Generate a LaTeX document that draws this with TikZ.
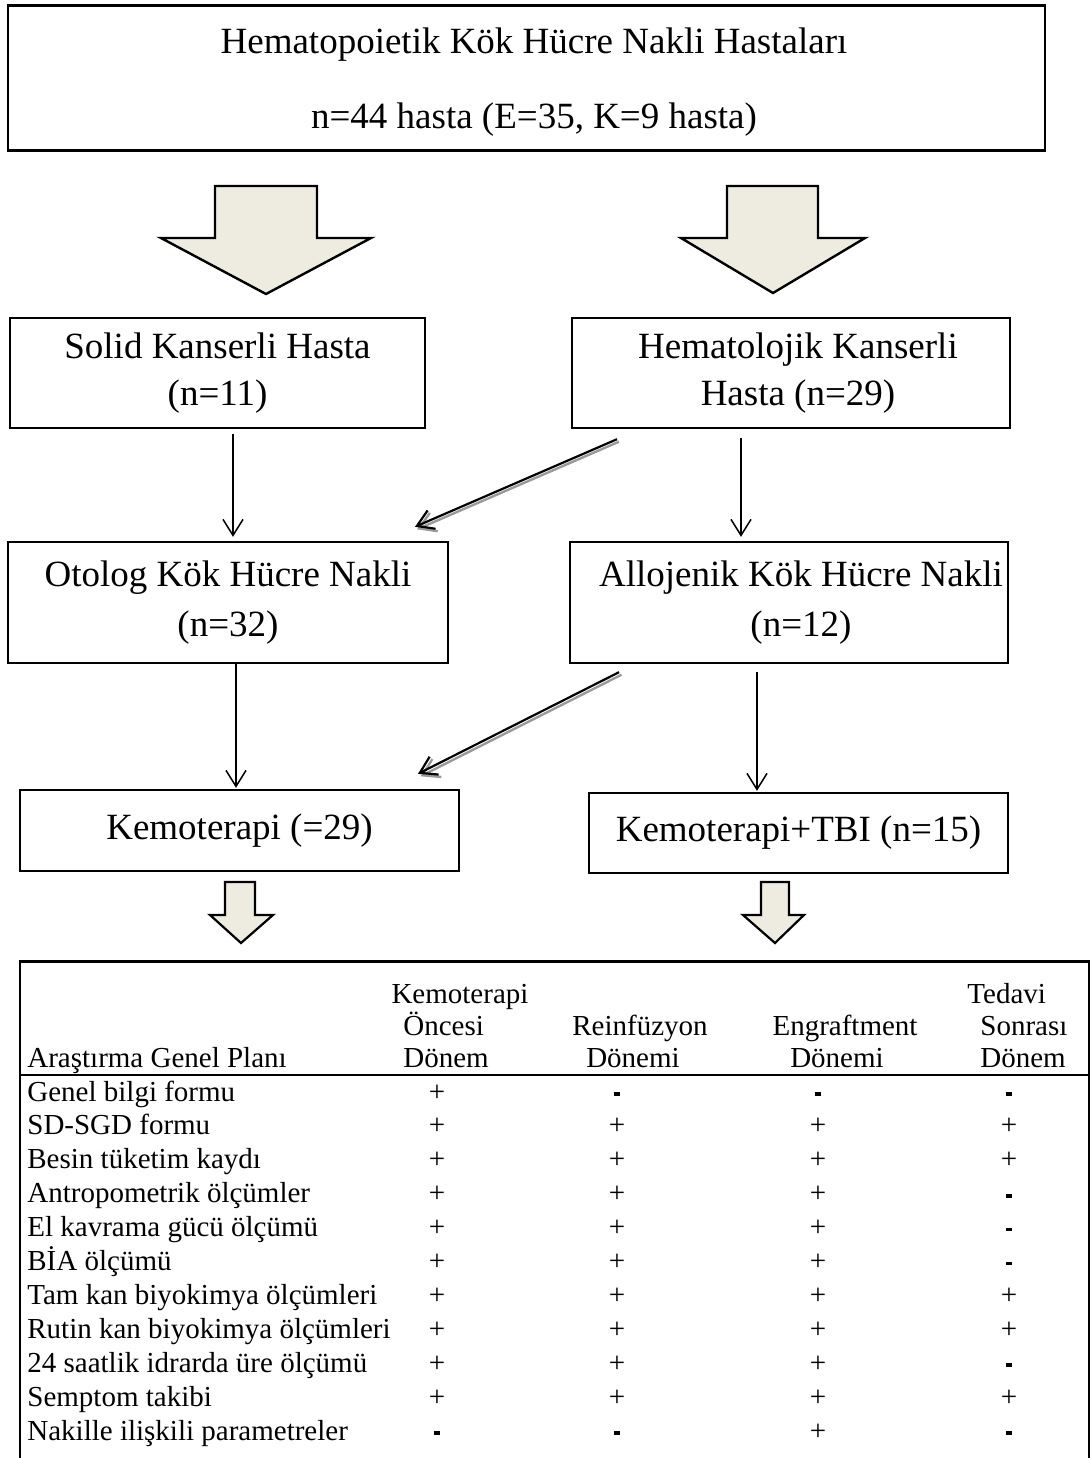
\documentclass[tikz,border=0pt]{standalone}
\usepackage{fontspec}
\setmainfont{Liberation Serif}
\usetikzlibrary{arrows.meta,calc}
\definecolor{fatfill}{HTML}{EEECE1}
\definecolor{shadowgray}{HTML}{9A9A9A}
\newcommand\cellp{+}
\newcommand\cellm{\rule[2.6pt]{3.4pt}{1.8pt}}
\begin{document}
\begin{tikzpicture}[x=0.5pt,y=-0.5pt,
  box/.style={draw=black, line width=1.2pt, inner sep=0pt, align=center, font=\fontsize{18.5}{23.5}\selectfont},
  fat/.style={draw=black, line width=1.2pt, fill=fatfill, line join=miter},
  conn/.style={line width=0.75pt, -{Straight Barb[length=8pt,width=10pt]}},
  diagconn/.style={line width=1.1pt, -{Straight Barb[length=8pt,width=10pt]}},
  shadowconn/.style={line width=1.2pt, shadowgray, -{Straight Barb[length=8pt,width=10pt]}},
  tcell/.style={inner sep=0pt, font=\fontsize{14.5}{17}\selectfont},
]
\useasboundingbox (0,0) rectangle (1092,1458);

% boxes
\node[box, minimum width=518.5pt, minimum height=72.5pt, font=\fontsize{18.5}{37.5}\selectfont] (top) at (526.5,78)
  {\rule{0pt}{16.6pt}\hspace*{7.5pt}Hematopoietik Kök Hücre Nakli Hastaları\\\hspace*{7.5pt}n=44 hasta (E=35, K=9 hasta)};
\node[box, minimum width=207.5pt, minimum height=55pt] (solid) at (217.5,373) {Solid Kanserli Hasta\\(n=11)};
\node[box, minimum width=219pt, minimum height=55pt] (hemat) at (791,373) {\hspace*{7pt}Hematolojik Kanserli\\\hspace*{7pt}Hasta (n=29)};
\node[box, minimum width=220pt, minimum height=60.5pt, font=\fontsize{18.5}{25}\selectfont] (otolog) at (228,602.5) {Otolog Kök Hücre Nakli\\(n=32)};
\node[box, minimum width=219pt, minimum height=60.5pt, font=\fontsize{18.5}{25}\selectfont] (allo) at (789,602.5) {\hspace*{12pt}Allojenik Kök Hücre Nakli\\\hspace*{12pt}(n=12)};
\node[box, minimum width=219.5pt, minimum height=40.5pt] (kemo) at (239.5,830.5) {Kemoterapi (=29)};
\node[box, minimum width=209.5pt, minimum height=40pt] (tbi) at (798.5,833) {Kemoterapi+TBI (n=15)};

% fat arrows
\draw[fat] (215,186) -- (317,186) -- (317,238) -- (371,238) -- (266,294) -- (161,238) -- (215,238) -- cycle;
\draw[fat] (727,186) -- (818,186) -- (818,238) -- (865,238) -- (773,293) -- (681,238) -- (727,238) -- cycle;
\draw[fat, line width=1.1pt] (225,882) -- (255,882) -- (255,915) -- (273,915) -- (241,943) -- (210,915) -- (225,915) -- cycle;
\draw[fat, line width=1.1pt] (761,882) -- (789,882) -- (789,915) -- (804,915) -- (775,943) -- (743,915) -- (761,915) -- cycle;

% connectors
\draw[conn] ($(solid.south)+(15.5,5)$) -- ($(otolog.north)+(5,-4)$);
\draw[shadowconn] ($(hemat.south)+(-172,12.5)$) -- ($(otolog.north)+(189,-11.5)$);
\draw[diagconn] ($(hemat.south)+(-174,10)$) -- ($(otolog.north)+(187,-14)$);
\draw[conn] ($(hemat.south)+(-50,9)$) -- ($(allo.north)+(-48,-4)$);
\draw[conn] ($(otolog.south)+(8,0)$) -- ($(kemo.north)+(-3.5,-1)$);
\draw[shadowconn] ($(allo.south)+(-167.5,10.5)$) -- ($(kemo.north)+(181,-12.5)$);
\draw[diagconn] ($(allo.south)+(-170,8)$) -- ($(kemo.north)+(178.5,-15)$);
\draw[conn] ($(allo.south)+(-32,8)$) -- ($(tbi.north)+(-41.5,-1)$);

% table frame
\draw[line width=1.5pt] (19,961) -- (1090,961);
\draw[line width=1pt] (20,961) -- (20,1458);
\draw[line width=0.8pt] (1089,961) -- (1089,1458);
\draw[line width=1.2pt] (20,1075) -- (1089,1075);

% header
\node[tcell, anchor=base west] (h0) at (27,1067) {Araştırma Genel Planı};
\node[tcell, anchor=base] (h1a) at (460,1003) {Kemoterapi};
\node[tcell, anchor=base west] (h1b) at (403,1035) {Öncesi};
\node[tcell, anchor=base west] (h1c) at (403,1067) {Dönem};
\node[tcell, anchor=base] (h2a) at (640,1035) {Reinfüzyon};
\node[tcell, anchor=base] (h2b) at (633,1067) {Dönemi};
\node[tcell, anchor=base] (h3a) at (845,1035) {Engraftment};
\node[tcell, anchor=base] (h3b) at (837,1067) {Dönemi};
\node[tcell, anchor=base west] (h4a) at (967,1003) {Tedavi};
\node[tcell, anchor=base west] (h4b) at (980,1035) {Sonrası};
\node[tcell, anchor=base west] (h4c) at (980,1067) {Dönem};

% rows
\foreach \lab/\ca/\cb/\cc/\cd [count=\i from 0] in {
  Genel bilgi formu/\cellp/\cellm/\cellm/\cellm,
  SD-SGD formu/\cellp/\cellp/\cellp/\cellp,
  Besin tüketim kaydı/\cellp/\cellp/\cellp/\cellp,
  Antropometrik ölçümler/\cellp/\cellp/\cellp/\cellm,
  El kavrama gücü ölçümü/\cellp/\cellp/\cellp/\cellm,
  BİA ölçümü/\cellp/\cellp/\cellp/\cellm,
  Tam kan biyokimya ölçümleri/\cellp/\cellp/\cellp/\cellp,
  Rutin kan biyokimya ölçümleri/\cellp/\cellp/\cellp/\cellp,
  24 saatlik idrarda üre ölçümü/\cellp/\cellp/\cellp/\cellm,
  Semptom takibi/\cellp/\cellp/\cellp/\cellp,
  Nakille ilişkili parametreler/\cellm/\cellm/\cellp/\cellm}
{
  \pgfmathsetmacro\yy{1101+33.9*\i}
  \node[tcell, anchor=base west] (r\i) at (27,\yy) {\lab};
  \node[tcell, anchor=base] (r\i c1) at (437,\yy) {\ca};
  \node[tcell, anchor=base] (r\i c2) at (617,\yy) {\cb};
  \node[tcell, anchor=base] (r\i c3) at (818,\yy) {\cc};
  \node[tcell, anchor=base] (r\i c4) at (1009,\yy) {\cd};
}
\end{tikzpicture}
\end{document}
